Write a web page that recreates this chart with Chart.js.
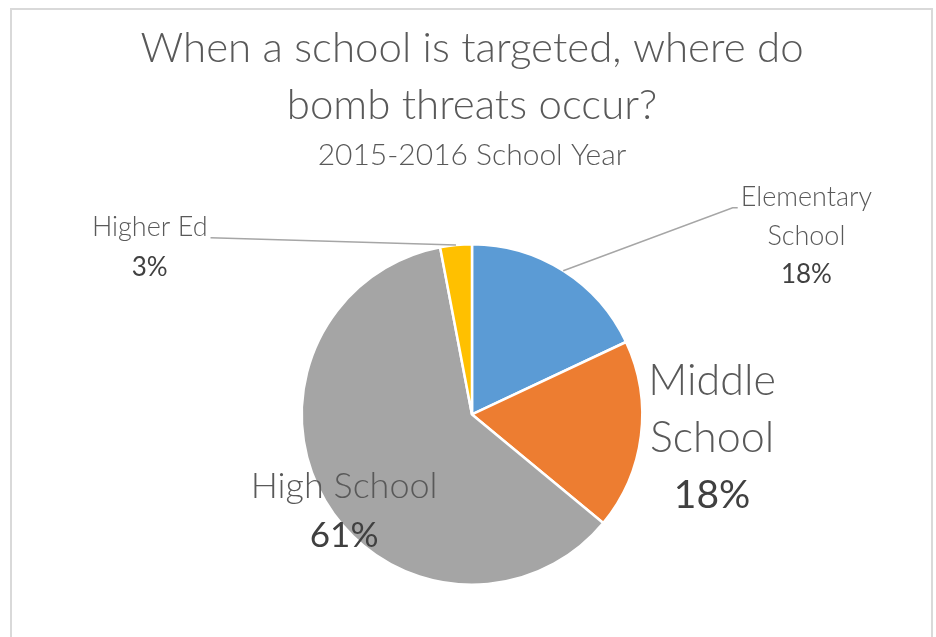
<!DOCTYPE html>
<html>
<head>
<meta charset="utf-8">
<script src="https://cdn.jsdelivr.net/npm/chart.js@4/dist/chart.umd.min.js"></script>
<style>
  html, body { margin: 0; padding: 0; background: #ffffff; }
  #wrap { position: relative; width: 936px; height: 637px; }
</style>
</head>
<body>
<div id="wrap"><canvas id="pie" width="936" height="637"></canvas></div>
<script>
// Where school bomb threats occurred, 2015-2016 school year (share of incidents, %)
const categories = ['Elementary School', 'Middle School', 'High School', 'Higher Ed'];
const shares = [18, 18, 61, 3];
const sliceColors = ['#5B9BD5', '#ED7D31', '#A5A5A5', '#FFC000'];

const titleLines = ['When a school is targeted, where do', 'bomb threats occur?'];
const subtitleText = '2015-2016 School Year';

// How each slice label is broken into lines and styled
const labelLines = [['Elementary', 'School'], ['Middle', 'School'], ['High School'], ['Higher Ed']];
const labelStyle = [
  { size: 27, pct: 26, gap: 39, dx: 1.964, dy: -1.278, leader: true,  side: 'left' },
  { size: 43, pct: 39, gap: 57, dx: 1.410, dy: -0.195, leader: false },
  { size: 36, pct: 35, gap: 50, dx: -0.751, dy: 0.420, leader: false },
  { size: 27, pct: 26, gap: 41, dx: -1.893, dy: -1.101, leader: true,  side: 'right' }
];

const FONT = "'Lato', 'Open Sans', sans-serif";

// Light grey frame around the whole chart
const framePlugin = {
  id: 'frame',
  beforeDraw(chart) {
    const ctx = chart.ctx;
    ctx.save();
    ctx.fillStyle = '#ffffff';
    ctx.fillRect(0, 0, chart.width, chart.height);
    ctx.strokeStyle = '#d9d9d9';
    ctx.lineWidth = 2;
    ctx.strokeRect(11, 9, chart.width - 11 - 4, chart.height + 20);
    ctx.restore();
  }
};

// Category name + percentage labels, with leader lines for the small outer ones
const sliceLabelPlugin = {
  id: 'sliceLabels',
  afterDatasetsDraw(chart) {
    const ctx = chart.ctx;
    const arcs = chart.getDatasetMeta(0).data;
    ctx.save();
    arcs.forEach((arc, i) => {
      const st = labelStyle[i];
      const R = arc.outerRadius;
      const cx = arc.x + st.dx * R;
      const cy0 = arc.y + st.dy * R;
      const lines = labelLines[i].concat([shares[i] + '%']);
      ctx.textAlign = 'center';
      ctx.textBaseline = 'middle';
      let maxW = 0;
      lines.forEach((txt, k) => {
        const isPct = k === lines.length - 1;
        ctx.font = isPct ? ('400 ' + st.pct + 'px ' + FONT) : ('300 ' + st.size + 'px ' + FONT);
        ctx.fillStyle = isPct ? '#404040' : '#595959';
        ctx.fillText(txt, cx, cy0 + k * st.gap);
        if (k === 0) maxW = ctx.measureText(txt).width;
      });
      if (st.leader) {
        const mid = (arc.startAngle + arc.endAngle) / 2;
        const ex = arc.x + Math.cos(mid) * R;
        const ey = arc.y + Math.sin(mid) * R;
        const ly = cy0 + st.size * 0.4;
        const lx = st.side === 'left' ? cx - maxW / 2 - 3 : cx + maxW / 2 + 3;
        const kx = st.side === 'left' ? lx - 5 : lx;
        ctx.strokeStyle = '#a6a6a6';
        ctx.lineWidth = 1.5;
        ctx.beginPath();
        ctx.moveTo(lx, ly);
        ctx.lineTo(kx, ly);
        ctx.lineTo(ex, ey);
        ctx.stroke();
      }
    });
    ctx.restore();
  }
};

new Chart(document.getElementById('pie'), {
  type: 'pie',
  data: {
    labels: categories,
    datasets: [{
      data: shares,
      backgroundColor: sliceColors,
      borderColor: '#ffffff',
      borderWidth: 2.5
    }]
  },
  options: {
    responsive: false,
    animation: false,
    layout: { padding: { left: 8, right: 0, top: 0, bottom: 51 } },
    plugins: {
      legend: { display: false },
      tooltip: { enabled: false },
      title: {
        display: true,
        text: titleLines,
        color: '#595959',
        font: { family: FONT, size: 42, weight: '300', lineHeight: 1.357 },
        padding: { top: 20, bottom: 4 }
      },
      subtitle: {
        display: true,
        text: subtitleText,
        color: '#595959',
        font: { family: FONT, size: 30, weight: '300', lineHeight: 1.133 },
        padding: { top: 0, bottom: 71 }
      }
    }
  },
  plugins: [framePlugin, sliceLabelPlugin]
});
</script>
</body>
</html>
